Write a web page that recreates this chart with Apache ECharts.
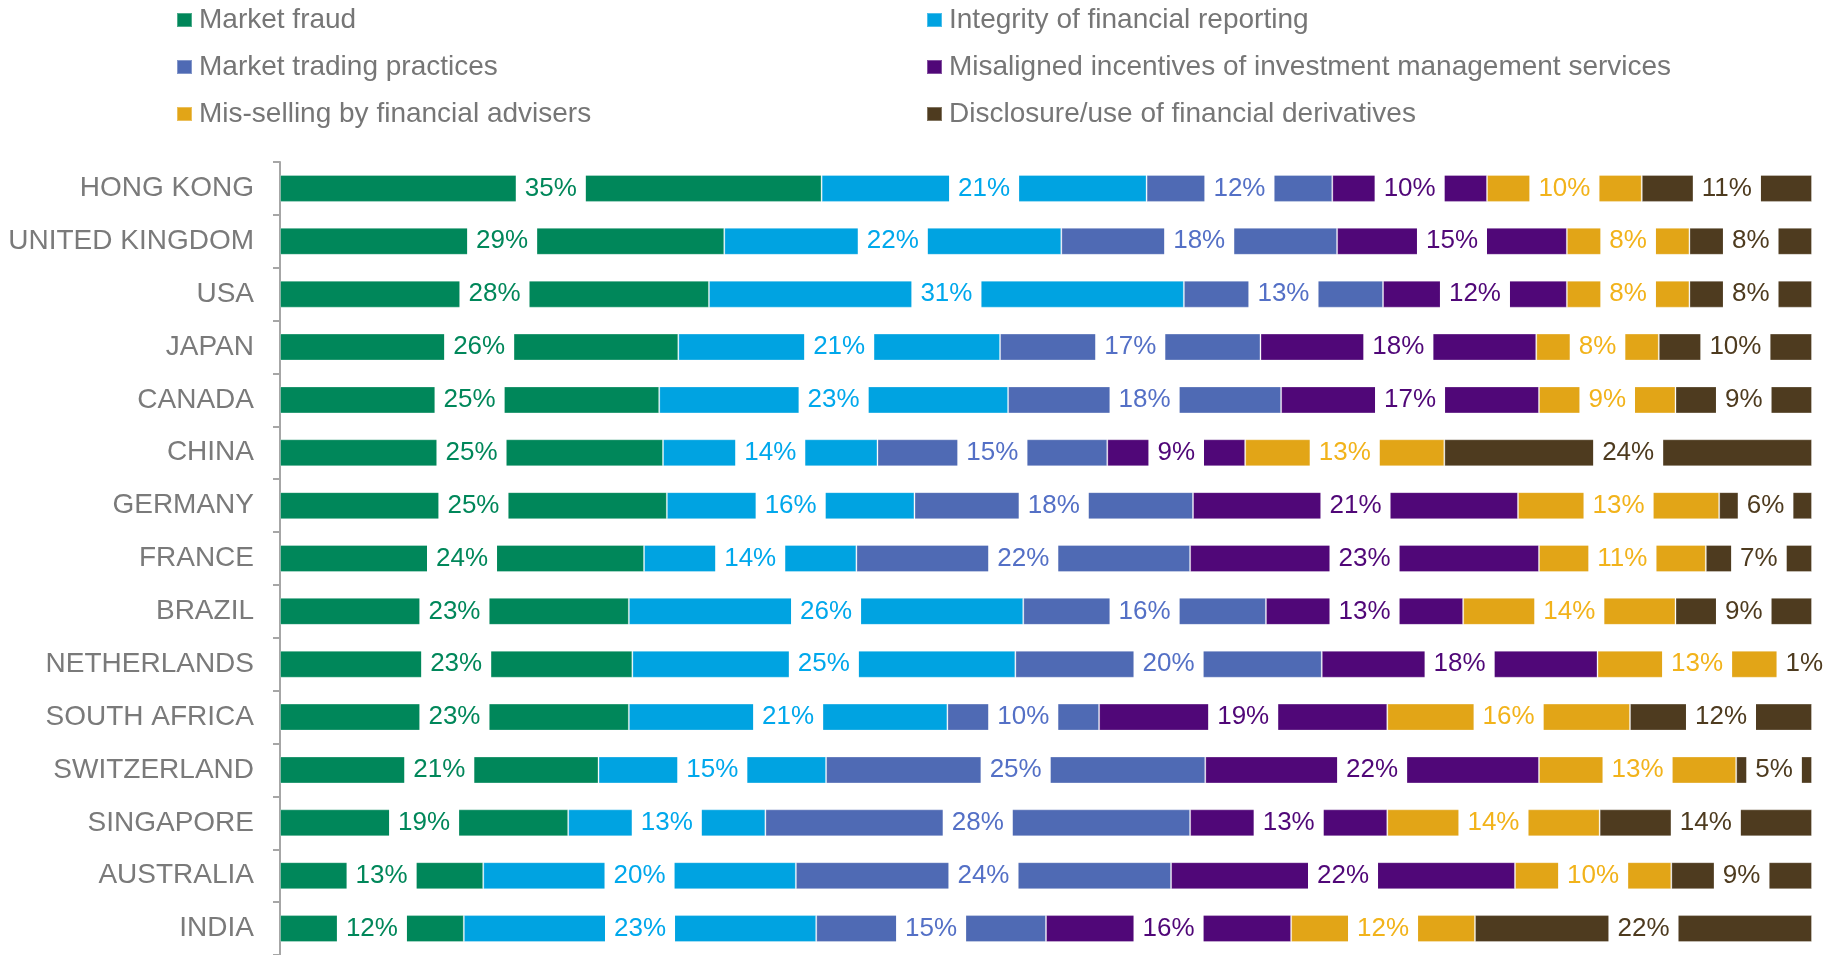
<!DOCTYPE html>
<html>
<head>
<meta charset="utf-8">
<script src="https://cdn.jsdelivr.net/npm/echarts@6/dist/echarts.min.js"></script>
<style>
html,body{margin:0;padding:0;background:#fff;}
#chart{width:1827px;height:955px;}
</style>
</head>
<body>
<div id="chart"></div>
<script>
var countries=["HONG KONG","UNITED KINGDOM","USA","JAPAN","CANADA","CHINA","GERMANY","FRANCE","BRAZIL","NETHERLANDS","SOUTH AFRICA","SWITZERLAND","SINGAPORE","AUSTRALIA","INDIA"];
var seriesNames=["Market fraud","Integrity of financial reporting","Market trading practices","Misaligned incentives of investment management services","Mis-selling by financial advisers","Disclosure/use of financial derivatives"];
var marketFraud=[35,29,28,26,25,25,25,24,23,23,23,21,19,13,12];
var integrity=[21,22,31,21,23,14,16,14,26,25,21,15,13,20,23];
var tradingPractices=[12,18,13,17,18,15,18,22,16,20,10,25,28,24,15];
var misaligned=[10,15,12,18,17,9,21,23,13,18,19,22,13,22,16];
var misSelling=[10,8,8,8,9,13,13,11,14,13,16,13,14,10,12];
var derivatives=[11,8,8,10,9,24,6,7,9,1,12,5,14,9,22];

var barColors=["#00875A","#00A3E1","#4F6AB4","#500778","#E2A517","#4E3B1F"];
var labelColors=["#00875A","#00A8EC","#5470C6","#500778","#F2B31B","#4E3B1F"];

var allValues=[marketFraud,integrity,tradingPractices,misaligned,misSelling,derivatives];
// each row is drawn as a share of its own total (100% stacked)
var totals=countries.map(function(c,i){
    var s=0;
    allValues.forEach(function(arr){s+=arr[i];});
    return s;
});

var font="'Liberation Sans', Arial, sans-serif";
var myChart=echarts.init(document.getElementById('chart'));

var series=allValues.map(function(arr,k){
    return {
        name:seriesNames[k],
        type:'bar',
        stack:'total',
        barWidth:27,
        itemStyle:{color:barColors[k],borderColor:'rgba(255,255,255,0.3)',borderWidth:1},
        label:{
            show:true,
            position:'inside',
            color:labelColors[k],
            fontFamily:font,
            fontSize:26,
            backgroundColor:'#fff',
            padding:[0,9],
            height:30,
            lineHeight:30,
            formatter:function(p){return p.data.raw+'%';}
        },
        data:arr.map(function(v,i){
            return {value:v/totals[i]*100,raw:v};
        })
    };
});

function legendAt(x,names){
    return {
        orient:'vertical',
        left:x,top:5,
        padding:0,
        icon:'rect',itemWidth:15,itemHeight:14,
        itemGap:17,
        selectedMode:false,
        textStyle:{fontFamily:font,fontSize:28,color:'#767676',lineHeight:30,padding:[0,0,0,2]},
        data:names
    };
}

var option={
    animation:false,
    backgroundColor:'#fff',
    legend:[
        legendAt(176,[seriesNames[0],seriesNames[2],seriesNames[4]]),
        legendAt(926,[seriesNames[1],seriesNames[3],seriesNames[5]])
    ],
    grid:{left:280,right:15,top:162,height:795,containLabel:false},
    xAxis:{type:'value',min:0,max:100,show:false},
    yAxis:{
        type:'category',
        inverse:true,
        data:countries,
        axisLine:{show:true,lineStyle:{color:'#A6A6A6',width:2}},
        axisTick:{show:true,length:7,lineStyle:{color:'#A6A6A6',width:2}},
        axisLabel:{interval:0,margin:26,fontFamily:font,fontSize:28,color:'#7A7A7A'},
        splitLine:{show:false}
    },
    series:series
};
myChart.setOption(option);
</script>
</body>
</html>
